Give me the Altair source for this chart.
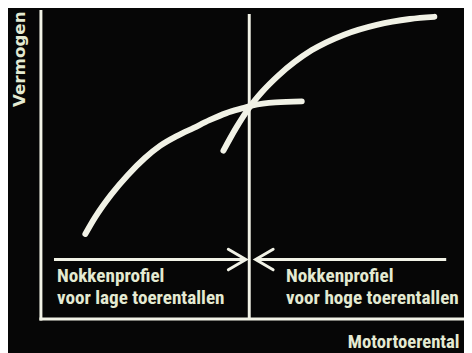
import altair as alt
import pandas as pd

# ---- data (abstract units: engine speed 0-100, power 0-100) ----
low_rpm = [10.6, 12.9, 16.7, 20.6, 24.6, 28.3, 32.3, 36.2, 39.9, 43.9, 47.8, 50.1, 55.5, 61.7]
low_power = [27.5, 32.9, 40.3, 46.6, 52.1, 56.2, 59.4, 62.0, 64.5, 66.8, 68.4, 69.3, 70.3, 70.6]

high_rpm = [43.2, 46.2, 49.2, 52.4, 56.1, 64.0, 71.7, 79.4, 87.2, 93.0]
high_power = [54.6, 62.0, 68.4, 73.8, 78.9, 87.2, 92.3, 95.5, 97.4, 98.1]

switch_rpm = [49.3]
switch_top = [99.0]

arrow_start = [3.2, 95.8]
arrow_tip = [48.5, 50.8]
arrow_level = [19.2, 19.2]
arrow_dir = ["right", "left"]

label_rpm = [3.9, 58.0]
label_power = [11.8, 11.8]
label_text = ["Nokkenprofiel\nvoor lage toerentallen",
              "Nokkenprofiel\nvoor hoge toerentallen"]

x_title = "Motortoerental"
y_title = "Vermogen"

# ---- style ----
BG = "#060606"
FG = "#f1f2e6"
TXT = "#e4ead2"
FONT = "Roboto Condensed, Liberation Sans Narrow, Liberation Sans, sans-serif"
YFONT = "DejaVu Sans, Liberation Sans, sans-serif"

curves = pd.DataFrame({
    "rpm": low_rpm + high_rpm,
    "power": low_power + high_power,
    "profile": ["laag"] * len(low_rpm) + ["hoog"] * len(high_rpm),
    "order": list(range(len(low_rpm))) + list(range(len(high_rpm))),
})
divider = pd.DataFrame({"rpm": switch_rpm, "top": switch_top, "bottom": [0.0]})
arrows = pd.DataFrame({"start": arrow_start, "tip": arrow_tip,
                       "level": arrow_level, "dir": arrow_dir})
labels = pd.DataFrame({"rpm": label_rpm, "power": label_power, "text": label_text})

xs = alt.Scale(domain=[0, 100], nice=False, zero=False)
ys = alt.Scale(domain=[0, 100], nice=False, zero=False)

x_axis = alt.Axis(title=x_title, domain=True, domainColor=FG, domainWidth=3,
                  domainCap="square", ticks=False, labels=False, grid=False,
                  titleAlign="right", titleBaseline="alphabetic",
                  titleX=426, titleY=29, titleFont=FONT, titleFontSize=19,
                  titleFontWeight="bold", titleColor=TXT)
y_axis = alt.Axis(title=y_title, domain=True, domainColor=FG, domainWidth=3,
                  domainCap="square", ticks=False, labels=False, grid=False,
                  titleAngle=270, titleAlign="right", titleBaseline="alphabetic",
                  titleX=-16.5, titleY=0, titleFont=YFONT, titleFontSize=17,
                  titleFontWeight="bold", titleColor=TXT)

curve_layer = alt.Chart(curves).mark_line(
    color=FG, strokeWidth=6, strokeCap="round", strokeJoin="round",
    interpolate="monotone"
).encode(
    x=alt.X("rpm:Q", scale=xs, axis=x_axis),
    y=alt.Y("power:Q", scale=ys, axis=y_axis),
    detail="profile:N",
    order="order:Q",
)

divider_layer = alt.Chart(divider).mark_rule(color=FG, strokeWidth=3).encode(
    x=alt.X("rpm:Q", scale=xs, axis=x_axis),
    y=alt.Y("bottom:Q", scale=ys, axis=y_axis),
    y2="top:Q",
)

arrow_layer = alt.Chart(arrows).mark_rule(color=FG, strokeWidth=3).encode(
    x=alt.X("start:Q", scale=xs, axis=x_axis),
    x2="tip:Q",
    y=alt.Y("level:Q", scale=ys, axis=y_axis),
)

head_right = "M -1.7 -1 L 0 0 L -1.7 1"
head_left = "M 1.7 -1 L 0 0 L 1.7 1"
head_layer = alt.Chart(arrows).mark_point(
    filled=False, stroke=FG, strokeWidth=3, opacity=1, size=441,
    strokeCap="round", strokeJoin="miter"
).encode(
    x=alt.X("tip:Q", scale=xs, axis=x_axis),
    y=alt.Y("level:Q", scale=ys, axis=y_axis),
    shape=alt.Shape("dir:N", scale=alt.Scale(domain=["right", "left"],
                                             range=[head_right, head_left]),
                    legend=None),
)

label_layer = alt.Chart(labels).mark_text(
    align="left", baseline="alphabetic", lineBreak="\n", lineHeight=22,
    font=FONT, fontSize=19.5, fontWeight="bold", color=TXT
).encode(
    x=alt.X("rpm:Q", scale=xs, axis=x_axis),
    y=alt.Y("power:Q", scale=ys, axis=y_axis),
    text="text:N",
)

chart = alt.layer(
    curve_layer, divider_layer, arrow_layer, head_layer, label_layer
).properties(
    width=431, height=313,
    autosize=alt.AutoSizeParams(type="none"),
    padding={"left": 33, "top": 0, "right": 0, "bottom": 32},
    background=BG,
).configure_view(stroke=None)

chart.save("out.html", embed_options={"renderer": "svg", "actions": False})
